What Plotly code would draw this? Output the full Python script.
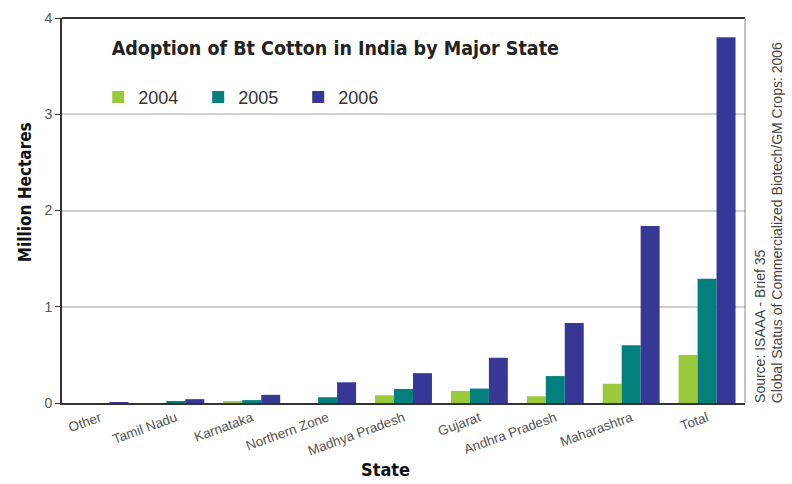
import plotly.graph_objects as go

states = ["Other", "Tamil Nadu", "Karnataka", "Northern Zone", "Madhya Pradesh",
          "Gujarat", "Andhra Pradesh", "Maharashtra", "Total"]
y2004 = [0.0, 0.0, 0.02, 0.0, 0.08, 0.125, 0.07, 0.20, 0.50]
y2005 = [0.0, 0.02, 0.03, 0.06, 0.146, 0.15, 0.28, 0.60, 1.29]
y2006 = [0.005, 0.04, 0.085, 0.215, 0.31, 0.47, 0.83, 1.84, 3.80]
years = ["2004", "2005", "2006"]
colors = ["#9ACA3C", "#03807D", "#373896"]

cond = "DejaVu Sans Condensed, Liberation Sans Narrow, Arial Narrow, sans-serif"

fig = go.Figure()
for name, vals, col in zip(years, [y2004, y2005, y2006], colors):
    fig.add_trace(go.Bar(x=states, y=vals, name=name, marker_color=col,
                         marker_line_width=0))

fig.update_layout(
    width=792, height=484,
    margin=dict(l=62, r=47, t=18, b=81),
    paper_bgcolor="white", plot_bgcolor="white",
    barmode="group", bargap=0.25, bargroupgap=0,
    font=dict(family="Liberation Sans, Arial, sans-serif", color="#444"),
    showlegend=True,
    legend=dict(orientation="h", x=0.053, y=0.794, xanchor="left", yanchor="middle",
                font=dict(size=18, color="#333"),
                bgcolor="rgba(0,0,0,0)", traceorder="normal",
                entrywidth=55, entrywidthmode="pixels"),
    title=dict(text="<b>Adoption of Bt Cotton in India by Major State</b>",
               x=0.141, xanchor="left", y=0.9, yanchor="middle",
               font=dict(family=cond, size=19.5, color="#222")),
)
fig.update_yaxes(range=[0, 4], tickvals=[0, 1, 2, 3, 4], showgrid=True,
                 gridcolor="#d0d0d0", gridwidth=1.5, automargin=False,
                 showline=True, linecolor="#333", linewidth=2, mirror=False,
                 ticks="outside", ticklen=5, tickcolor="#333",
                 tickfont=dict(size=14, color="#555"),
                 zeroline=False)
fig.update_xaxes(showline=True, linecolor="#333", linewidth=2, automargin=False,
                 tickangle=-20, tickfont=dict(size=13.5, color="#555"))
# axis titles
fig.add_annotation(text="<b>Million Hectares</b>", xref="paper", yref="paper",
                   x=-0.054, y=0.548, xanchor="center", yanchor="middle",
                   textangle=-90, showarrow=False,
                   font=dict(size=17, color="#111", family=cond))
fig.add_annotation(text="<b>State</b>", xref="paper", yref="paper",
                   x=0.473, y=-0.174, xanchor="center", yanchor="middle",
                   showarrow=False, font=dict(size=18, color="#111", family=cond))
# top border and right border
fig.add_shape(type="line", xref="paper", yref="paper", x0=0, x1=1, y0=1, y1=1,
              line=dict(color="#333", width=2))
fig.add_shape(type="line", xref="paper", yref="paper", x0=1, x1=1, y0=0, y1=1,
              line=dict(color="#888", width=1))

fig.add_annotation(text="Source: ISAAA - Brief 35", xref="paper", yref="paper",
                   x=1.022, y=-0.005, xanchor="center", yanchor="bottom", textangle=-90,
                   showarrow=False, font=dict(size=14, color="#444"))
fig.add_annotation(text="Global Status of Commercialized Biotech/GM Crops: 2006",
                   xref="paper", yref="paper",
                   x=1.048, y=-0.005, xanchor="center", yanchor="bottom", textangle=-90,
                   showarrow=False, font=dict(size=14, color="#444"))

fig.write_html("out.html")
